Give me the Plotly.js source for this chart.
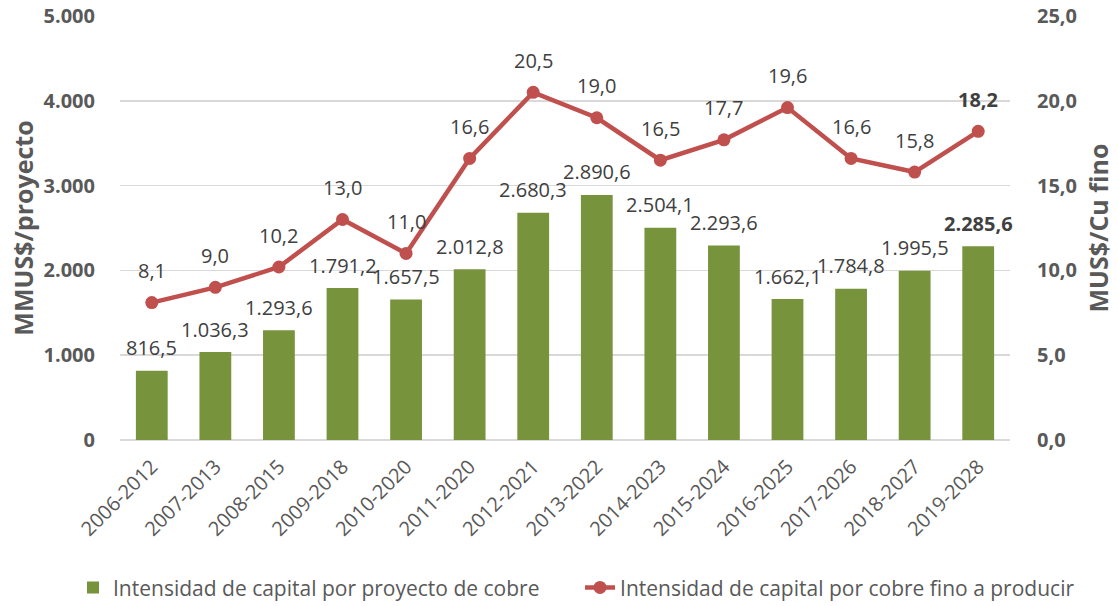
<!DOCTYPE html>
<html><head><meta charset="utf-8">
<script src="https://cdn.plot.ly/plotly-3.0.1.min.js"></script>
<style>html,body{margin:0;padding:0;background:#fff}#chart{width:1118px;height:606px}</style>
</head><body><div id="chart"></div>
<script>
const categories = ["2006-2012","2007-2013","2008-2015","2009-2018","2010-2020","2011-2020","2012-2021","2013-2022","2014-2023","2015-2024","2016-2025","2017-2026","2018-2027","2019-2028"];
const capitalPorProyecto = [816.5,1036.3,1293.6,1791.2,1657.5,2012.8,2680.3,2890.6,2504.1,2293.6,1662.1,1784.8,1995.5,2285.6];
const capitalPorCobreFino = [8.1,9.0,10.2,13.0,11.0,16.6,20.5,19.0,16.5,17.7,19.6,16.6,15.8,18.2];
const seriesNames = ["Intensidad de capital por proyecto de cobre","Intensidad de capital por cobre fino a producir"];

function fmt(v){
  const parts = v.toFixed(1).split('.');
  parts[0] = parts[0].replace(/\B(?=(\d{3})+(?!\d))/g, '.');
  return parts[0] + ',' + parts[1];
}
const lastIdx = categories.length - 1;
const FONT = 'Open Sans, Noto Sans, sans-serif';
const LBL = {family:FONT,size:20,color:'#404040'};

const annotations = [];
categories.forEach((c,i)=>{
  const b = i===lastIdx;
  annotations.push({x:c, y:capitalPorProyecto[i], xref:'x', yref:'y', yanchor:'middle', yshift:23,
    showarrow:false, text: b ? '<b>'+fmt(capitalPorProyecto[i])+'</b>' : fmt(capitalPorProyecto[i]), font:LBL});
  annotations.push({x:c, y:capitalPorCobreFino[i], xref:'x', yref:'y2', yanchor:'middle', yshift:32,
    showarrow:false, text: b ? '<b>'+fmt(capitalPorCobreFino[i])+'</b>' : fmt(capitalPorCobreFino[i]), font:LBL});
});

const traces = [
  {type:'bar', x:categories, y:capitalPorProyecto, name:seriesNames[0], legend:'legend',
   marker:{color:'#77933C'}, hoverinfo:'skip'},
  {type:'scatter', mode:'lines+markers', x:categories, y:capitalPorCobreFino, yaxis:'y2', name:seriesNames[1], legend:'legend2',
   line:{color:'#C0504D',width:4.5}, marker:{color:'#C0504D',size:13}, cliponaxis:false, hoverinfo:'skip'}
];
const LEGFONT = {family:FONT,size:21,color:'#595959'};
const layout = {
  width:1118, height:606,
  margin:{l:120,r:108,t:16,b:166},
  paper_bgcolor:'#fff', plot_bgcolor:'#fff',
  separators:',.',
  font:{family:FONT,color:'#595959'},
  bargap:0.5,
  showlegend:true,
  annotations:annotations,
  legend:{orientation:'h', xref:'container', yref:'container', x:0.0653, xanchor:'left', y:0.03, yanchor:'middle', font:LEGFONT},
  legend2:{orientation:'h', xref:'container', yref:'container', x:0.5188, xanchor:'left', y:0.03, yanchor:'middle', font:LEGFONT},
  xaxis:{type:'category', range:[-0.5, categories.length-0.5], autorange:false,
         tickangle:-45, tickfont:{family:FONT,size:20,color:'#595959'}, showgrid:false, automargin:false,
         showline:false, zeroline:false, ticks:'outside', ticklen:6, tickcolor:'rgba(0,0,0,0)'},
  yaxis:{range:[0,5000], dtick:1000, tickformat:',d', showgrid:true, gridcolor:'#D9D9D9', gridwidth:1.5,
         zeroline:true, zerolinecolor:'#D9D9D9', zerolinewidth:1.5, automargin:false,
         tickfont:{family:FONT,size:20,color:'#595959',weight:'bold'},
         title:{text:'<b>MMUS$/proyecto</b>', font:{family:FONT,size:25,color:'#595959'}, standoff:2},
         ticks:'outside', ticklen:20, tickcolor:'rgba(0,0,0,0)'},
  yaxis2:{range:[0,25], dtick:5, tickformat:'.1f', overlaying:'y', side:'right', showgrid:false, zeroline:false, automargin:false,
          tickfont:{family:FONT,size:20,color:'#595959',weight:'bold'},
          title:{text:'<b>MUS$/Cu fino</b>', font:{family:FONT,size:25,color:'#595959'}, standoff:14},
          ticks:'outside', ticklen:22, tickcolor:'rgba(0,0,0,0)'}
};
Plotly.newPlot('chart', traces, layout, {displayModeBar:false, staticPlot:true});
</script></body></html>
